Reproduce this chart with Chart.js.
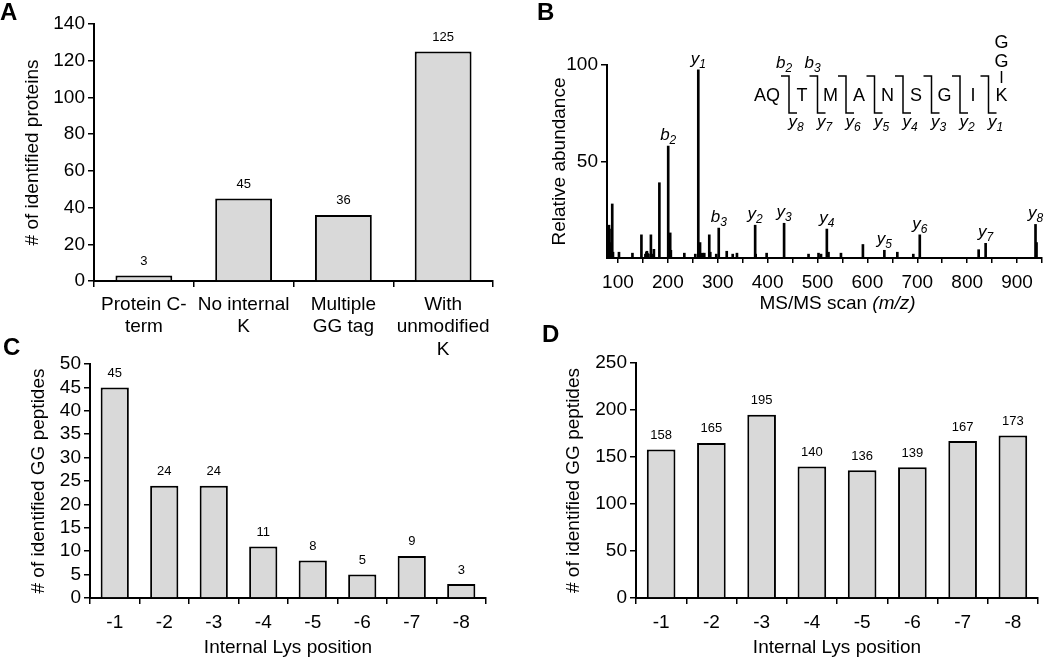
<!DOCTYPE html>
<html>
<head>
<meta charset="utf-8">
<script src="https://cdn.jsdelivr.net/npm/chart.js@4.4.0/dist/chart.umd.min.js"></script>
<style>
  body { margin: 0; width: 1050px; height: 658px; overflow: hidden; background: #fff; position: relative; font-family: 'Liberation Sans', Arial, sans-serif; }
  canvas { position: absolute; }
  .tag { position: absolute; font-weight: bold; font-size: 24px; line-height: 1; color: #000; }
</style>
</head>
<body>
<canvas id="chartA" width="520" height="362" style="left:0;top:0"></canvas>
<canvas id="chartB" width="530" height="320" style="left:520px;top:0"></canvas>
<canvas id="chartC" width="520" height="338" style="left:0;top:320px"></canvas>
<canvas id="chartD" width="530" height="338" style="left:520px;top:320px"></canvas>
<div class="tag" style="left:0;top:0">A</div>
<div class="tag" style="left:537px;top:0">B</div>
<div class="tag" style="left:3px;top:335px">C</div>
<div class="tag" style="left:542px;top:322px">D</div>
<script>
// Panel A: identified proteins per category
const catA = [['Protein C-', 'term'], ['No internal', 'K'], ['Multiple', 'GG tag'], ['With', 'unmodified', 'K']];
const valA = [3, 45, 36, 125];

// Panel B: MS/MS spectrum (m/z, relative abundance)
const specMz = [82, 83, 84, 85, 86, 88.5, 90, 102, 129, 147, 155, 157, 158, 159, 161, 166, 168, 172, 183,
  200.7, 204.7, 206, 233, 255, 261, 264.5, 269, 273, 283, 285, 297, 302, 318, 330, 338.5, 375, 376, 398,
  433, 482, 502, 507, 518.7, 522, 547, 591, 634, 660, 692, 705, 823, 837, 937, 939];
const specInt = [17, 15, 8, 4, 3, 28, 3, 3, 2.5, 12, 2, 3, 3.5, 2.5, 2, 12, 2, 4.5, 39,
  58, 13, 4, 2.5, 2, 97.5, 8, 2.5, 2.5, 12, 3, 2, 15.5, 3.5, 2, 2.5, 17, 2, 2.5,
  18, 2, 2.5, 2, 15, 3, 2.5, 7, 4, 3, 2, 12, 4.3, 7.6, 17.4, 8];
// annotated fragment ions
const ionMz = [200.7, 261, 302, 375, 433, 518.7, 634, 705, 837, 937];
const ionType = ['b', 'y', 'b', 'y', 'y', 'y', 'y', 'y', 'y', 'y'];
const ionNum = [2, 1, 3, 2, 3, 4, 5, 6, 7, 8];
const seqResidues = ['T', 'M', 'A', 'N', 'S', 'G', 'I', 'K'];

// Panels C and D: internal Lys position
const lysPos = ['-1', '-2', '-3', '-4', '-5', '-6', '-7', '-8'];
const valC = [45, 24, 24, 11, 8, 5, 9, 3];
const valD = [158, 165, 195, 140, 136, 139, 167, 173];

const FONT = "'Liberation Sans', Arial, sans-serif";
Chart.defaults.font.family = FONT;
Chart.defaults.color = '#000';
Chart.defaults.animation = false;

// force scale box size so chart areas line up with the figure
function fixSize(px) {
  return scale => { if (scale.isHorizontal()) scale.height = px; else scale.width = px; };
}

// numbers above bars
const valueLabels = {
  id: 'valueLabels',
  afterDatasetsDraw(chart) {
    const ctx = chart.ctx;
    const ds = chart.data.datasets[0];
    ctx.save();
    ctx.font = '13px ' + FONT;
    ctx.fillStyle = '#000';
    ctx.textAlign = 'center';
    ctx.textBaseline = 'middle';
    chart.getDatasetMeta(0).data.forEach((bar, i) => ctx.fillText(ds.data[i], bar.x, bar.y - 14));
    ctx.restore();
  }
};

function barPanel(id, labels, values, yMax, yStep, pad, yW, xH, yTitle, yTitlePad, xTitle, xPad) {
  return new Chart(document.getElementById(id), {
    type: 'bar',
    data: {
      labels: labels,
      datasets: [{
        data: values,
        backgroundColor: '#d9d9d9',
        borderColor: '#000',
        borderWidth: 2,
        barPercentage: 0.57,
        categoryPercentage: 1
      }]
    },
    options: {
      responsive: false,
      layout: { padding: pad },
      plugins: { legend: { display: false }, tooltip: { enabled: false } },
      scales: {
        x: {
          grid: { offset: true, drawOnChartArea: false, tickLength: 6, color: '#000', lineWidth: 1.5 },
          border: { color: '#000', width: 2 },
          ticks: { font: { size: 19, lineHeight: 1.2 }, padding: xPad, maxRotation: 0, autoSkip: false },
          title: xTitle ? { display: true, text: xTitle, font: { size: 19, lineHeight: 1 }, padding: { top: 0, bottom: 0.5 } } : { display: false },
          afterFit: fixSize(xH)
        },
        y: {
          min: 0,
          max: yMax,
          ticks: { stepSize: yStep, font: { size: 19 }, padding: 3, autoSkip: false },
          grid: { drawOnChartArea: false, tickLength: 6, color: '#000', lineWidth: 1.5 },
          border: { color: '#000', width: 2 },
          title: { display: true, text: yTitle, font: { size: 19, lineHeight: 1.2 }, padding: { top: yTitlePad, bottom: 0 } },
          afterFit: fixSize(yW)
        }
      }
    },
    plugins: [valueLabels]
  });
}

// italic ion label with subscript number
function drawIon(ctx, letter, num, cx, baseY, big, small) {
  ctx.font = 'italic ' + big + 'px ' + FONT;
  const w1 = ctx.measureText(letter).width;
  ctx.font = 'italic ' + small + 'px ' + FONT;
  const w2 = ctx.measureText(String(num)).width;
  const left = cx - (w1 + w2) / 2;
  ctx.textAlign = 'left';
  ctx.textBaseline = 'alphabetic';
  ctx.font = 'italic ' + big + 'px ' + FONT;
  ctx.fillText(letter, left, baseY);
  ctx.font = 'italic ' + small + 'px ' + FONT;
  ctx.fillText(String(num), left + w1, baseY + 4);
}

// peak labels, x title and peptide fragmentation sketch
const spectrumNotes = {
  id: 'spectrumNotes',
  afterDatasetsDraw(chart) {
    const { ctx, chartArea } = chart;
    const xs = chart.scales.x, ys = chart.scales.y;
    ctx.save();
    ctx.fillStyle = '#000';
    ctx.strokeStyle = '#000';

    ionMz.forEach((m, i) => {
      const k = specMz.indexOf(m);
      drawIon(ctx, ionType[i], ionNum[i], xs.getPixelForValue(m), ys.getPixelForValue(specInt[k]) - 6, 17, 12);
    });

    // x axis title: "MS/MS scan (m/z)"
    ctx.font = '19px ' + FONT;
    const t1 = 'MS/MS scan ';
    const w1 = ctx.measureText(t1).width;
    ctx.font = 'italic 19px ' + FONT;
    const w2 = ctx.measureText('(m/z)').width;
    const tx = (chartArea.left + chartArea.right) / 2 + 13 - (w1 + w2) / 2;
    ctx.textAlign = 'left';
    ctx.textBaseline = 'middle';
    ctx.font = '19px ' + FONT;
    ctx.fillText(t1, tx, 304);
    ctx.font = 'italic 19px ' + FONT;
    ctx.fillText('(m/z)', tx + w1, 304);

    // peptide sequence with b / y cleavage brackets
    const x0 = chartArea.left + 195, step = 28.5, yMid = 96;
    ctx.font = '18px ' + FONT;
    ctx.textAlign = 'center';
    ctx.textBaseline = 'middle';
    ctx.fillText('AQ', x0 - 35, yMid);
    ctx.lineWidth = 1.5;
    seqResidues.forEach((r, i) => {
      const rx = x0 + i * step;
      ctx.font = '18px ' + FONT;
      ctx.textAlign = 'center';
      ctx.textBaseline = 'middle';
      ctx.fillText(r, rx, yMid);
      const bx = rx - 13;
      ctx.beginPath();
      ctx.moveTo(bx - 8, 76);
      ctx.lineTo(bx, 76);
      ctx.lineTo(bx, 113);
      ctx.lineTo(bx + 8, 113);
      ctx.stroke();
      drawIon(ctx, 'y', seqResidues.length - i, bx + 7, 127, 17, 12);
      if (i < 2) drawIon(ctx, 'b', i + 2, bx - 5, 68, 17, 12);
    });
    // GG tag on the lysine
    const kx = x0 + (seqResidues.length - 1) * step;
    ctx.font = '18px ' + FONT;
    ctx.textAlign = 'center';
    ctx.textBaseline = 'middle';
    ctx.fillText('G', kx, 43);
    ctx.fillText('G', kx, 62);
    ctx.beginPath();
    ctx.moveTo(kx, 71);
    ctx.lineTo(kx, 83);
    ctx.stroke();
    ctx.restore();
  }
};

barPanel('chartA', catA, valA, 140, 20, { left: 0, top: 24, right: 27, bottom: 0 }, 94, 81, '# of identified proteins', 21, null, 6);
barPanel('chartC', lysPos, valC, 50, 5, { left: 0, top: 44, right: 34, bottom: 0 }, 90, 60, '# of identified GG peptides', 27, 'Internal Lys position', 7);
barPanel('chartD', lysPos, valD, 250, 50, { left: 0, top: 43, right: 12, bottom: 0 }, 116, 60, '# of identified GG peptides', 42, 'Internal Lys position', 7);

new Chart(document.getElementById('chartB'), {
  type: 'bar',
  data: {
    datasets: [{
      data: specMz.map((m, i) => ({ x: m, y: specInt[i] })),
      backgroundColor: '#000',
      barThickness: 2
    }]
  },
  options: {
    responsive: false,
    layout: { padding: { left: 0, top: 65, right: 7, bottom: 0 } },
    plugins: { legend: { display: false }, tooltip: { enabled: false } },
    scales: {
      x: {
        type: 'linear',
        min: 78,
        max: 950,
        offset: false,
        ticks: { stepSize: 50, includeBounds: false, autoSkip: false, maxRotation: 0, font: { size: 19 }, padding: 8,
          callback: v => (v % 100 === 0 ? v : '') },
        grid: { offset: false, drawOnChartArea: false, tickLength: 5, color: '#000', lineWidth: 1.5 },
        border: { color: '#000', width: 2 },
        afterFit: fixSize(62)
      },
      y: {
        min: 0,
        max: 100,
        ticks: { stepSize: 50, font: { size: 19 }, padding: 3, callback: v => (v === 0 ? '' : v) },
        grid: { drawOnChartArea: false, tickLength: 6, lineWidth: 1.5,
          color: c => (c.tick && c.tick.value === 0 ? 'rgba(0,0,0,0)' : '#000') },
        border: { color: '#000', width: 2 },
        title: { display: true, text: 'Relative abundance', font: { size: 19, lineHeight: 1.2 }, padding: { top: 28, bottom: 0 } },
        afterFit: fixSize(87)
      }
    }
  },
  plugins: [spectrumNotes]
});
</script>
</body>
</html>
